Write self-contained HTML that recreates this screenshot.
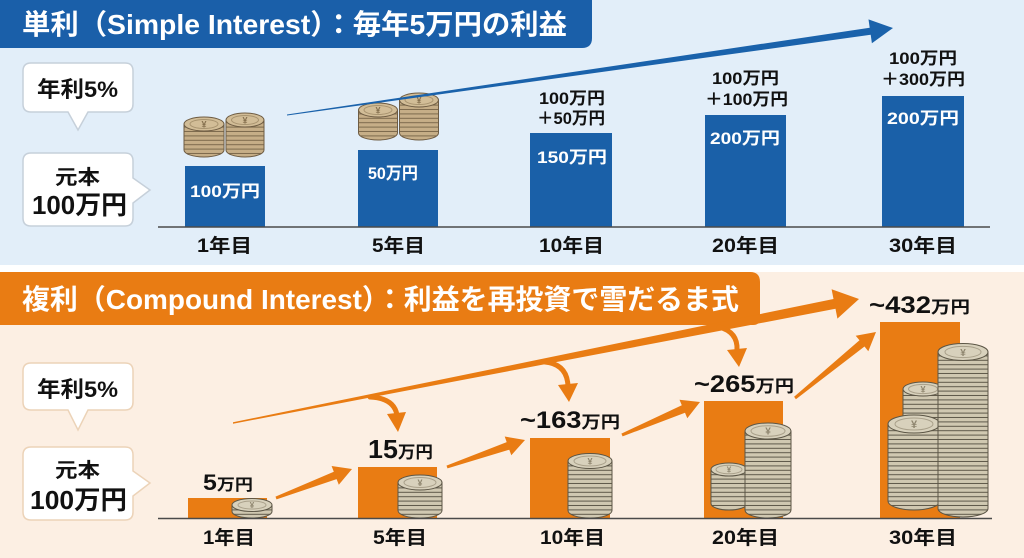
<!DOCTYPE html>
<html>
<head>
<meta charset="utf-8">
<style>
html,body{margin:0;padding:0;background:#fff;}
svg{display:block;font-family:"Liberation Sans","Noto Sans CJK JP",sans-serif;font-weight:bold;}
</style>
</head>
<body>
<svg width="1024" height="558" viewBox="0 0 1024 558" xmlns="http://www.w3.org/2000/svg">
<defs>
<pattern id="pt" width="8" height="4.4" patternUnits="userSpaceOnUse"><rect width="8" height="4.4" fill="#c6ae87"/><rect y="3.4" width="8" height="1" fill="#7d6a4d"/></pattern>
<pattern id="pb" width="8" height="4.4" patternUnits="userSpaceOnUse"><rect width="8" height="4.4" fill="#d0c8b1"/><rect y="3.4" width="8" height="1" fill="#5f594a"/></pattern>
</defs>
<rect width="1024" height="558" fill="#ffffff"/>
<rect x="0" y="0" width="1024" height="265" fill="#e2eef9"/>
<rect x="0" y="272" width="1024" height="286" fill="#fcefe3"/>

<!-- headers -->
<path d="M0,0 H592 V38 Q592,48 582,48 H0 Z" fill="#1a5fa9"/>
<text x="22" y="34" font-size="28" fill="#ffffff" textLength="545" lengthAdjust="spacingAndGlyphs">単利（Simple Interest）：毎年5万円の利益</text>

<path d="M0,272 H750 Q760,272 760,282 V318 Q760,325 753,325 H0 Z" fill="#e97c13"/>
<text x="22" y="309" font-size="28" fill="#ffffff" textLength="717" lengthAdjust="spacingAndGlyphs">複利（Compound Interest）：利益を再投資で雪だるま式</text>

<!-- top bubbles -->
<path d="M31,63 H125 Q133,63 133,71 V104 Q133,112 125,112 H88 L78,130 L68,112 H31 Q23,112 23,104 V71 Q23,63 31,63 Z" fill="#ffffff" stroke="#c6d0da" stroke-width="1.5"/>
<path d="M31,153 H125 Q133,153 133,161 V178 L150,190 L133,203 V218 Q133,226 125,226 H31 Q23,226 23,218 V161 Q23,153 31,153 Z" fill="#ffffff" stroke="#c6d0da" stroke-width="1.5"/>
<text x="37" y="97" font-size="22" fill="#111" textLength="81" lengthAdjust="spacingAndGlyphs">年利5%</text>
<text x="55" y="184" font-size="20" fill="#111" textLength="45" lengthAdjust="spacingAndGlyphs">元本</text>
<text x="32" y="214" font-size="26" fill="#111" textLength="95" lengthAdjust="spacingAndGlyphs">100万円</text>

<!-- bottom bubbles -->
<path d="M31,363 H125 Q133,363 133,371 V402 Q133,410 125,410 H88 L78,430 L68,410 H31 Q23,410 23,402 V371 Q23,363 31,363 Z" fill="#ffffff" stroke="#ecd3b8" stroke-width="1.5"/>
<path d="M31,447 H125 Q133,447 133,455 V471 L150,483 L133,496 V512 Q133,520 125,520 H31 Q23,520 23,512 V455 Q23,447 31,447 Z" fill="#ffffff" stroke="#ecd3b8" stroke-width="1.5"/>
<text x="37" y="397" font-size="22" fill="#111" textLength="81" lengthAdjust="spacingAndGlyphs">年利5%</text>
<text x="55" y="477" font-size="20" fill="#111" textLength="45" lengthAdjust="spacingAndGlyphs">元本</text>
<text x="30" y="509" font-size="26" fill="#111" textLength="97" lengthAdjust="spacingAndGlyphs">100万円</text>

<!-- top bars -->
<g fill="#1a60a8">
<rect x="185" y="166" width="80" height="61"/>
<rect x="358" y="150" width="80" height="77"/>
<rect x="530" y="133" width="82" height="94"/>
<rect x="705" y="115" width="81" height="112"/>
<rect x="882" y="96" width="82" height="131"/>
</g>
<line x1="158" y1="227" x2="990" y2="227" stroke="#4a4a4a" stroke-width="1.5"/>
<g font-size="17" fill="#ffffff">
<text x="190" y="197" textLength="70" lengthAdjust="spacingAndGlyphs">100万円</text>
<text x="368" y="179" textLength="50" lengthAdjust="spacingAndGlyphs">50万円</text>
<text x="537" y="163" textLength="70" lengthAdjust="spacingAndGlyphs">150万円</text>
<text x="710" y="144" textLength="70" lengthAdjust="spacingAndGlyphs">200万円</text>
<text x="887" y="124" textLength="72" lengthAdjust="spacingAndGlyphs">200万円</text>
</g>
<g font-size="17" fill="#111">
<text x="539" y="104" textLength="66" lengthAdjust="spacingAndGlyphs">100万円</text>
<text x="537" y="124" textLength="68" lengthAdjust="spacingAndGlyphs">＋50万円</text>
<text x="712" y="84" textLength="67" lengthAdjust="spacingAndGlyphs">100万円</text>
<text x="705" y="105" textLength="83" lengthAdjust="spacingAndGlyphs">＋100万円</text>
<text x="889" y="64" textLength="68" lengthAdjust="spacingAndGlyphs">100万円</text>
<text x="881" y="85" textLength="84" lengthAdjust="spacingAndGlyphs">＋300万円</text>
</g>
<g font-size="19" fill="#111">
<text x="197" y="252" textLength="55" lengthAdjust="spacingAndGlyphs">1年目</text>
<text x="372" y="252" textLength="53" lengthAdjust="spacingAndGlyphs">5年目</text>
<text x="539" y="252" textLength="65" lengthAdjust="spacingAndGlyphs">10年目</text>
<text x="712" y="252" textLength="67" lengthAdjust="spacingAndGlyphs">20年目</text>
<text x="889" y="252" textLength="68" lengthAdjust="spacingAndGlyphs">30年目</text>
</g>

<!-- top coins -->
<g stroke="#6e5c43" stroke-width="1">
<path d="M184,124 V150 A20,7 0 0 0 224,150 V124 Z" fill="url(#pt)"/>
<ellipse cx="204" cy="124" rx="20" ry="7" fill="#d2bd97"/>
<ellipse cx="204" cy="124" rx="14" ry="4.5" fill="none" stroke="#a8936f"/>
<path d="M226,120 V150 A19,7 0 0 0 264,150 V120 Z" fill="url(#pt)"/>
<ellipse cx="245" cy="120" rx="19" ry="7" fill="#d2bd97"/>
<ellipse cx="245" cy="120" rx="13.5" ry="4.5" fill="none" stroke="#a8936f"/>
<path d="M358.5,110 V133 A19.5,7 0 0 0 397.5,133 V110 Z" fill="url(#pt)"/>
<ellipse cx="378" cy="110" rx="19.5" ry="7" fill="#d2bd97"/>
<ellipse cx="378" cy="110" rx="14" ry="4.5" fill="none" stroke="#a8936f"/>
<path d="M399.5,100 V133 A19.5,7 0 0 0 438.5,133 V100 Z" fill="url(#pt)"/>
<ellipse cx="419" cy="100" rx="19.5" ry="7" fill="#d2bd97"/>
<ellipse cx="419" cy="100" rx="14" ry="4.5" fill="none" stroke="#a8936f"/>
</g>
<g font-size="9" fill="#86714f" text-anchor="middle">
<text x="204" y="127.5">¥</text>
<text x="245" y="123.5">¥</text>
<text x="378" y="113.5">¥</text>
<text x="419" y="103.5">¥</text>
</g>

<!-- blue arrow -->
<polygon points="287,114.5 869.7,27.8 868.5,19.4 893,28 871.9,43.2 870.7,34.8 287,115.5" fill="#1a62ab"/>

<!-- bottom bars -->
<g fill="#e97c13">
<rect x="188" y="498" width="79" height="20"/>
<rect x="358" y="467" width="79" height="51"/>
<rect x="530" y="438" width="80" height="80"/>
<rect x="704" y="401" width="79" height="117"/>
<rect x="880" y="322" width="80" height="196"/>
</g>

<!-- bottom coins -->
<g stroke="#5c5646" stroke-width="1">
<path d="M232,505 V511.5 A20,6.5 0 0 0 272,511.5 V505 Z" fill="url(#pb)"/>
<ellipse cx="252" cy="505" rx="20" ry="6.5" fill="#d8d1bc"/>
<ellipse cx="252" cy="505" rx="14" ry="4" fill="none" stroke="#a9a08a"/>
<path d="M398,482.5 V510.5 A22,7.5 0 0 0 442,510.5 V482.5 Z" fill="url(#pb)"/>
<ellipse cx="420" cy="482.5" rx="22" ry="7.5" fill="#d8d1bc"/>
<ellipse cx="420" cy="482.5" rx="16" ry="5" fill="none" stroke="#a9a08a"/>
<path d="M568,461 V510.5 A22,7.5 0 0 0 612,510.5 V461 Z" fill="url(#pb)"/>
<ellipse cx="590" cy="461" rx="22" ry="7.5" fill="#d8d1bc"/>
<ellipse cx="590" cy="461" rx="16" ry="5" fill="none" stroke="#a9a08a"/>
<path d="M711,469.5 V503.5 A18,6.5 0 0 0 747,503.5 V469.5 Z" fill="url(#pb)"/>
<ellipse cx="729" cy="469.5" rx="18" ry="6.5" fill="#d8d1bc"/>
<ellipse cx="729" cy="469.5" rx="13" ry="4.3" fill="none" stroke="#a9a08a"/>
<path d="M745,431 V510 A23,8 0 0 0 791,510 V431 Z" fill="url(#pb)"/>
<ellipse cx="768" cy="431" rx="23" ry="8" fill="#d8d1bc"/>
<ellipse cx="768" cy="431" rx="17" ry="5.3" fill="none" stroke="#a9a08a"/>
<path d="M903,389 V453 A20,7 0 0 0 943,453 V389 Z" fill="url(#pb)"/>
<ellipse cx="923" cy="389" rx="20" ry="7" fill="#d8d1bc"/>
<ellipse cx="923" cy="389" rx="14.5" ry="4.6" fill="none" stroke="#a9a08a"/>
<path d="M888,424 V501 A26,9 0 0 0 940,501 V424 Z" fill="url(#pb)"/>
<ellipse cx="914" cy="424" rx="26" ry="9" fill="#d8d1bc"/>
<ellipse cx="914" cy="424" rx="19" ry="6" fill="none" stroke="#a9a08a"/>
<path d="M938,352 V508.5 A25,8.5 0 0 0 988,508.5 V352 Z" fill="url(#pb)"/>
<ellipse cx="963" cy="352" rx="25" ry="8.5" fill="#d8d1bc"/>
<ellipse cx="963" cy="352" rx="18" ry="5.6" fill="none" stroke="#a9a08a"/>
</g>
<g fill="#8f866f" text-anchor="middle">
<text x="252" y="508" font-size="8">¥</text>
<text x="420" y="486" font-size="9">¥</text>
<text x="590" y="464.5" font-size="9">¥</text>
<text x="729" y="472.5" font-size="8">¥</text>
<text x="768" y="434.5" font-size="10">¥</text>
<text x="923" y="392.5" font-size="9">¥</text>
<text x="914" y="428" font-size="11">¥</text>
<text x="963" y="356" font-size="10">¥</text>
</g>

<line x1="158" y1="518.5" x2="992" y2="518.5" stroke="#4a4a4a" stroke-width="1.5"/>

<!-- orange arrows -->
<g fill="#e97c13">
<polygon points="233,422.3 833.5,299 831.6,289.2 859,299 837.4,318.6 835.5,308.8 233,423.7"/>
<polygon points="275.5,496.6 333.8,471.7 331.6,466.0 352,469 338.8,484.8 336.6,479.1 276.5,499.4"/>
<polygon points="446.5,465.6 506.7,442.1 504.7,436.5 525,440 511.3,455.3 509.3,449.7 447.5,468.4"/>
<polygon points="621.4,433.6 681.8,405.3 679.5,399.8 700,402 687.3,418.2 685,412.7 622.6,436.4"/>
<polygon points="794.1,396.8 859.5,340.3 855.7,335.7 876,332 868.3,351.2 864.5,346.5 795.9,399.2"/>
<polygon points="387,414 406,412 398,432"/>
<polygon points="558,385 578,383 569,402"/>
<polygon points="727,350 747,348 739,367"/>
</g>
<g fill="none" stroke="#e97c13" stroke-width="5" stroke-linecap="round">
<path d="M370,397 Q394,398 397,415"/>
<path d="M545,362 Q567,364 568,386"/>
<path d="M719,327 Q738,332 737,350"/>
</g>

<!-- bottom value labels -->
<g fill="#111">
<text x="203" y="490" textLength="50" lengthAdjust="spacingAndGlyphs"><tspan font-size="22">5</tspan><tspan font-size="16">万円</tspan></text>
<text x="368" y="458" textLength="65" lengthAdjust="spacingAndGlyphs"><tspan font-size="26">15</tspan><tspan font-size="17">万円</tspan></text>
<text x="520" y="428" textLength="100" lengthAdjust="spacingAndGlyphs"><tspan font-size="24">~163</tspan><tspan font-size="17">万円</tspan></text>
<text x="694" y="392" textLength="100" lengthAdjust="spacingAndGlyphs"><tspan font-size="24">~265</tspan><tspan font-size="17">万円</tspan></text>
<text x="869" y="313" textLength="101" lengthAdjust="spacingAndGlyphs"><tspan font-size="24">~432</tspan><tspan font-size="17">万円</tspan></text>
</g>
<g font-size="19" fill="#111">
<text x="203" y="544" textLength="52" lengthAdjust="spacingAndGlyphs">1年目</text>
<text x="373" y="544" textLength="54" lengthAdjust="spacingAndGlyphs">5年目</text>
<text x="540" y="544" textLength="65" lengthAdjust="spacingAndGlyphs">10年目</text>
<text x="712" y="544" textLength="67" lengthAdjust="spacingAndGlyphs">20年目</text>
<text x="889" y="544" textLength="68" lengthAdjust="spacingAndGlyphs">30年目</text>
</g>
</svg>
</body>
</html>
